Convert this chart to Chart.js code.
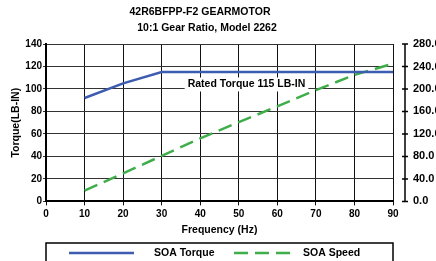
<!DOCTYPE html>
<html>
<head>
<meta charset="utf-8">
<script src="https://cdn.jsdelivr.net/npm/chart.js@4/dist/chart.umd.min.js"></script>
<style>
    html, body { margin: 0; padding: 0; background: #fff; }
</style>
</head>
<body>
<canvas id="gearChart" width="436" height="261"></canvas>
<script>
// data
const frequencyHz = [10, 20, 30, 40, 50, 60, 70, 80, 90];
const soaTorque = [92, 105, 115, 115, 115, 115, 115, 115, 115];
const soaSpeed = [19, 50, 81, 112, 141, 169, 198, 225, 245];

const titleLines = ['42R6BFPP-F2 GEARMOTOR', '10:1 Gear Ratio, Model 2262'];
const ratedLabel = 'Rated Torque 115 LB-IN';
const ratedAt = { hz: 52, torque: 104 };

const FONT = '"Liberation Sans", Arial, sans-serif';

function toPoints(ys) {
    return frequencyHz.map((f, i) => ({ x: f, y: ys[i] }));
}

// titles drawn by hand (they sit left of the canvas centre)
const titlePlugin = {
    id: 'titles',
    afterDraw(chart) {
        const ctx = chart.ctx;
        ctx.save();
        ctx.fillStyle = '#000';
        ctx.font = 'bold 10.5px ' + FONT;
        ctx.textAlign = 'center';
        ctx.textBaseline = 'middle';
        ctx.fillText(titleLines[0], 200, 12);
        ctx.fillText(titleLines[1], 207, 28);
        ctx.restore();
    }
};

// "Rated Torque" label in a white box
const ratedPlugin = {
    id: 'rated',
    beforeDatasetsDraw(chart) {
        const ctx = chart.ctx;
        const x = chart.scales.x.getPixelForValue(ratedAt.hz);
        const y = chart.scales.y.getPixelForValue(ratedAt.torque);
        ctx.save();
        ctx.font = 'bold 10.5px ' + FONT;
        const w = ctx.measureText(ratedLabel).width;
        ctx.fillStyle = '#fff';
        ctx.fillRect(x - w / 2 - 3, y - 7, w + 6, 14);
        ctx.fillStyle = '#000';
        ctx.textAlign = 'center';
        ctx.textBaseline = 'middle';
        ctx.fillText(ratedLabel, x, y);
        ctx.restore();
    }
};

// right axis line sits apart from the plot, ticks cross it
const rightAxisPlugin = {
    id: 'rightAxis',
    afterDraw(chart) {
        const ctx = chart.ctx;
        const s = chart.scales.y1;
        const ax = chart.chartArea.right + 12;
        ctx.save();
        ctx.strokeStyle = '#000';
        ctx.lineWidth = 1.5;
        ctx.beginPath();
        ctx.moveTo(ax, s.getPixelForValue(s.max));
        ctx.lineTo(ax, s.getPixelForValue(s.min));
        s.ticks.forEach(t => {
            const py = s.getPixelForValue(t.value);
            ctx.moveTo(ax - 3, py);
            ctx.lineTo(ax + 3, py);
        });
        ctx.stroke();
        ctx.restore();
    }
};

// boxed legend under the plot, like the original sheet
const boxLegendPlugin = {
    id: 'boxLegend',
    afterDraw(chart) {
        const ctx = chart.ctx;
        const area = chart.chartArea;
        const top = 243, midY = 253;
        const slots = [{ x0: 69, x1: 134, tx: 154 }, { x0: 234, x1: 297, tx: 303 }];
        ctx.save();
        ctx.strokeStyle = '#000';
        ctx.lineWidth = 1.5;
        ctx.strokeRect(area.left, top, area.right - area.left, 30);
        chart.data.datasets.forEach((ds, i) => {
            const s = slots[i];
            ctx.strokeStyle = ds.borderColor;
            ctx.lineWidth = ds.borderWidth;
            ctx.setLineDash(ds.borderDash || []);
            ctx.beginPath();
            ctx.moveTo(s.x0, midY);
            ctx.lineTo(s.x1, midY);
            ctx.stroke();
            ctx.setLineDash([]);
            ctx.fillStyle = '#000';
            ctx.font = 'bold 10.5px ' + FONT;
            ctx.textBaseline = 'middle';
            ctx.fillText(ds.label, s.tx, midY);
        });
        ctx.restore();
    }
};

const ctx = document.getElementById('gearChart').getContext('2d');
new Chart(ctx, {
    type: 'line',
    data: {
        datasets: [{
            label: 'SOA Torque',
            data: toPoints(soaTorque),
            yAxisID: 'y',
            borderColor: '#3d5cb0',
            backgroundColor: '#3d5cb0',
            borderWidth: 2.5,
            pointRadius: 0,
            tension: 0,
            fill: false
        }, {
            label: 'SOA Speed',
            data: toPoints(soaSpeed),
            yAxisID: 'y1',
            borderColor: '#3fae4a',
            backgroundColor: '#3fae4a',
            borderWidth: 2.5,
            borderDash: [14, 7],
            pointRadius: 0,
            tension: 0,
            fill: false
        }]
    },
    options: {
        responsive: false,
        animation: false,
        layout: { padding: { top: 44, left: 0, right: 0, bottom: 25 } },
        plugins: {
            title: { display: false },
            tooltip: { enabled: false },
            legend: { display: false }
        },
        scales: {
            x: {
                type: 'linear',
                min: 0,
                max: 90,
                ticks: {
                    stepSize: 10,
                    color: '#000',
                    padding: 3,
                    font: { family: FONT, size: 10, weight: 'bold' }
                },
                grid: { color: '#111', lineWidth: 1, tickLength: 4 },
                border: { color: '#000', width: 2 },
                title: {
                    display: true,
                    text: 'Frequency (Hz)',
                    color: '#000',
                    padding: { top: 0, bottom: 0 },
                    font: { family: FONT, size: 10.5, weight: 'bold' }
                }
            },
            y: {
                position: 'left',
                min: 0,
                max: 140,
                ticks: {
                    stepSize: 20,
                    color: '#000',
                    padding: 1,
                    font: { family: FONT, size: 10, weight: 'bold' }
                },
                grid: { color: '#333', lineWidth: 1, tickLength: 3 },
                border: { color: '#000', width: 2 },
                title: {
                    display: true,
                    text: 'Torque(LB-IN)',
                    color: '#000',
                    padding: { top: 10, bottom: 0 },
                    font: { family: FONT, size: 10.5, weight: 'bold' }
                },
                afterFit(scale) { scale.width = 46; }
            },
            y1: {
                position: 'right',
                min: 0,
                max: 280,
                ticks: {
                    stepSize: 40,
                    color: '#000',
                    padding: 20,
                    font: { family: FONT, size: 11, weight: 'bold' },
                    callback: v => v.toFixed(1)
                },
                grid: { drawOnChartArea: false, drawTicks: false },
                border: { display: false },
                afterFit(scale) { scale.width = 43; }
            }
        }
    },
    plugins: [titlePlugin, ratedPlugin, rightAxisPlugin, boxLegendPlugin]
});
</script>
</body>
</html>
